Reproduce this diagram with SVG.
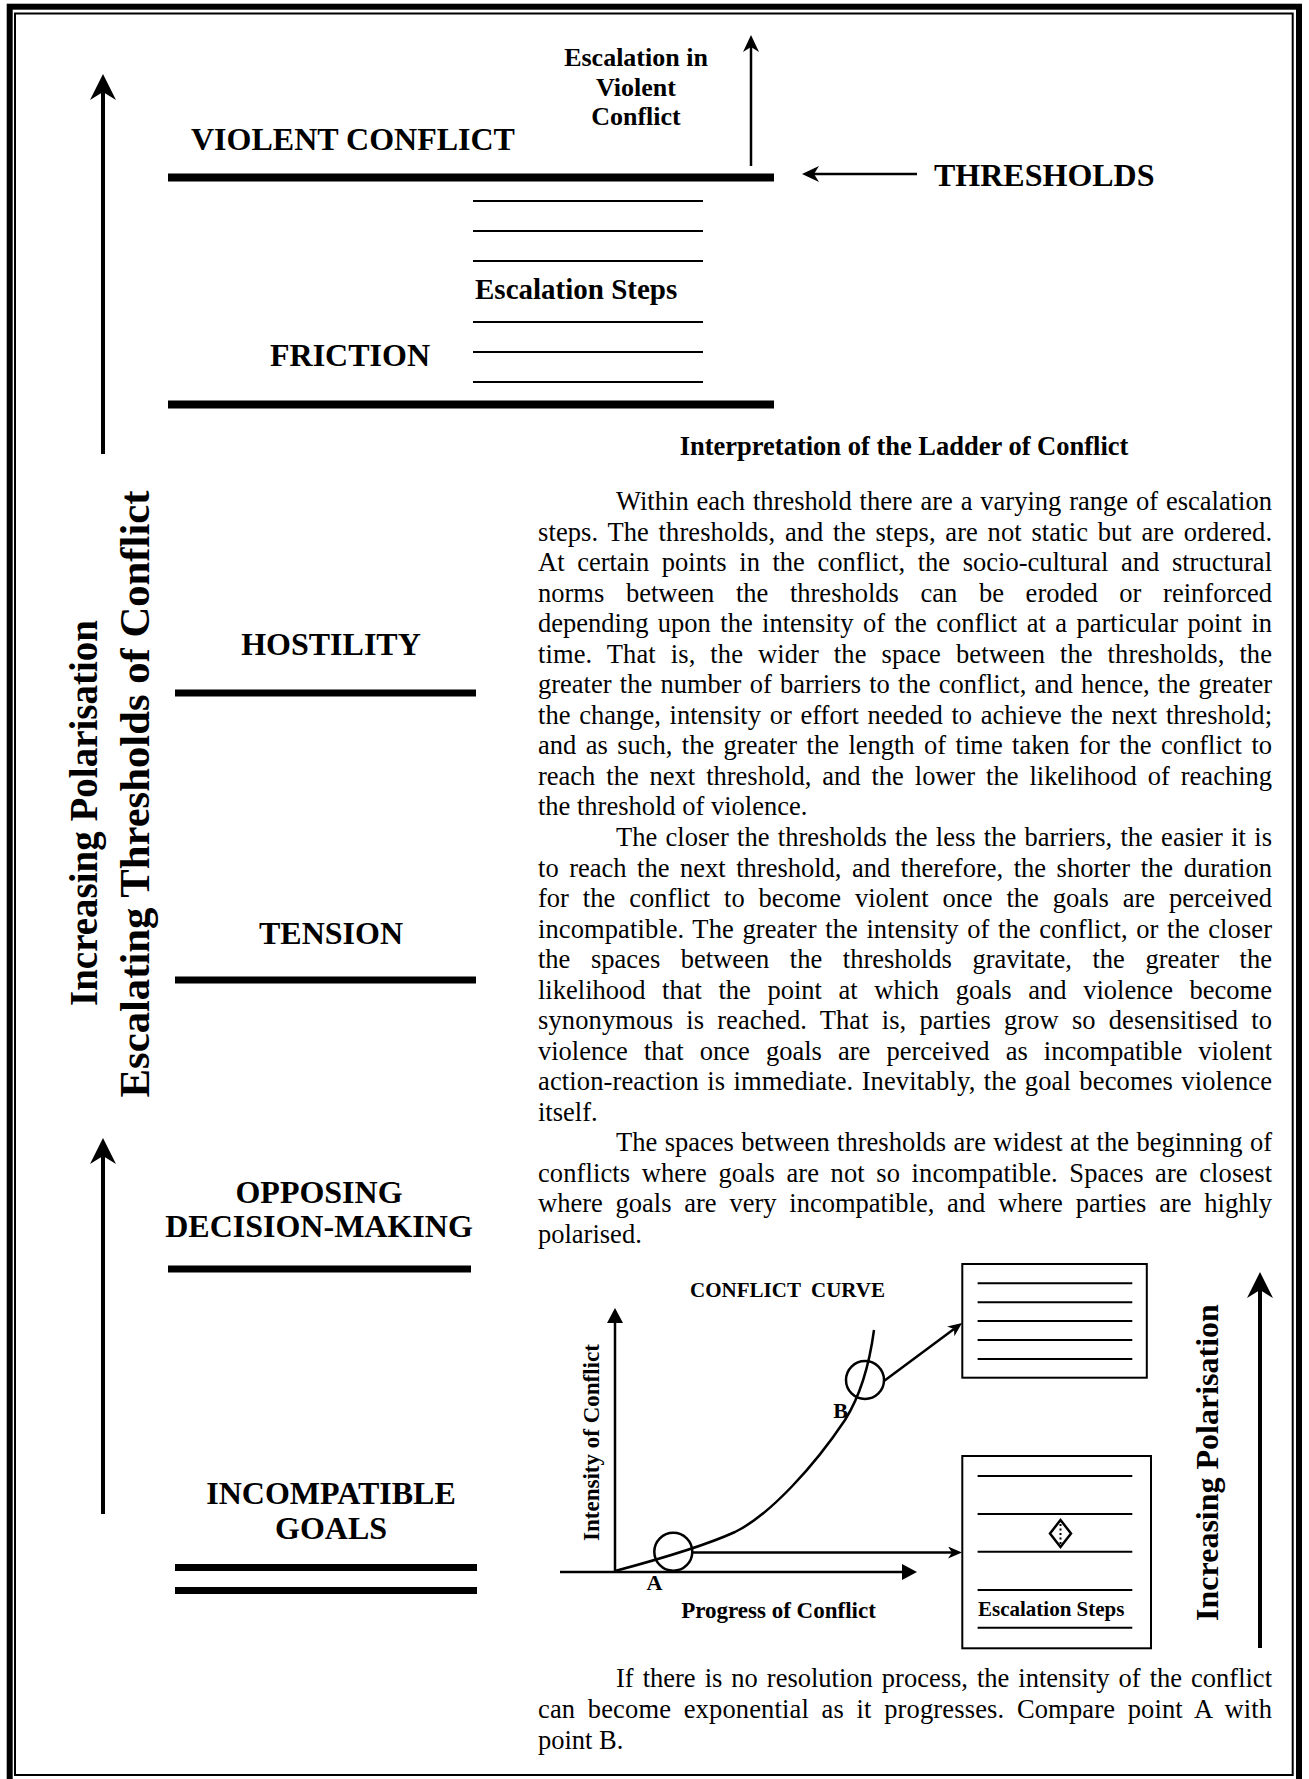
<svg xmlns="http://www.w3.org/2000/svg" width="1309" height="1779" viewBox="0 0 1309 1779">
  <style>
    text { font-family: "Liberation Serif", "Times New Roman", serif; fill: #000; }
    .cap { font-weight: bold; font-size: 32px; }
    .mid { text-anchor: middle; }
    .body { font-size: 26.5px; }
    .bold { font-weight: bold; }
    .sep { fill: none; stroke: #000; stroke-width: 7; }
    .sep8 { fill: none; stroke: #000; stroke-width: 8; }
    .step { fill: none; stroke: #000; stroke-width: 2; }
    .box { fill: none; stroke: #000; stroke-width: 2; }
    .shaft { fill: none; stroke: #000; stroke-width: 4; }
    .thin { fill: none; stroke: #000; stroke-width: 2.5; }
  </style>
  <defs>
    <!-- barbed arrowheads, anchored at the notch so the shaft never pokes through the tip -->
    <marker id="headBig" markerUnits="userSpaceOnUse" viewBox="0 0 26 26" markerWidth="26" markerHeight="26" refX="8" refY="13" orient="auto">
      <path d="M0,0 L26,13 L0,26 L8,13 Z" fill="#000"/>
    </marker>
    <marker id="headMid" markerUnits="userSpaceOnUse" viewBox="0 0 17 16" markerWidth="17" markerHeight="16" refX="5" refY="8" orient="auto">
      <path d="M0,0 L17,8 L0,16 L5,8 Z" fill="#000"/>
    </marker>
    <marker id="headSmall" markerUnits="userSpaceOnUse" viewBox="0 0 14 12" markerWidth="14" markerHeight="12" refX="4" refY="6" orient="auto">
      <path d="M0,0 L14,6 L0,12 L4,6 Z" fill="#000"/>
    </marker>
    <!-- plain triangle for the graph axes -->
    <marker id="headTri" markerUnits="userSpaceOnUse" viewBox="0 0 15 16" markerWidth="15" markerHeight="16" refX="0" refY="8" orient="auto">
      <path d="M0,0 L15,8 L0,16 Z" fill="#000"/>
    </marker>
  </defs>

  <rect width="1309" height="1779" fill="#fff"/>

  <!-- double page frame -->
  <g id="frame">
    <rect x="9.7" y="6.7" width="1289.3" height="1776" fill="none" stroke="#000" stroke-width="6"/>
    <rect x="15" y="13.5" width="1277.7" height="1761.5" fill="none" stroke="#000" stroke-width="2"/>
  </g>

  <!-- side captions -->
  <g id="side-captions" class="bold">
    <text class="mid" font-size="39" transform="translate(97,813) rotate(-90)">Increasing Polarisation</text>
    <text class="mid" font-size="42.7" transform="translate(149,794) rotate(-90)">Escalating Thresholds of Conflict</text>
  </g>

  <!-- ladder thresholds -->
  <g id="violent-conflict">
    <text class="cap" x="191" y="150">VIOLENT CONFLICT</text>
    <line class="sep8" x1="168" y1="177.5" x2="774" y2="177.5"/>
  </g>
  <g id="escalation-violent" class="bold" font-size="26">
    <text class="mid" x="636" y="66">Escalation in</text>
    <text class="mid" x="636" y="95.5">Violent</text>
    <text class="mid" x="636" y="125">Conflict</text>
  </g>
  <g id="thresholds-label">
    <text class="cap" x="934" y="186">THRESHOLDS</text>
  </g>
  <g id="escalation-steps">
    <line class="step" x1="473" y1="201" x2="703" y2="201"/>
    <line class="step" x1="473" y1="231" x2="703" y2="231"/>
    <line class="step" x1="473" y1="261" x2="703" y2="261"/>
    <text class="bold" font-size="29" x="475" y="299">Escalation Steps</text>
    <line class="step" x1="473" y1="322" x2="703" y2="322"/>
    <line class="step" x1="473" y1="352" x2="703" y2="352"/>
    <line class="step" x1="473" y1="382" x2="703" y2="382"/>
  </g>
  <g id="friction">
    <text class="cap" x="270" y="366">FRICTION</text>
    <line class="sep8" x1="168" y1="404.5" x2="774" y2="404.5"/>
  </g>
  <g id="hostility">
    <text class="cap mid" x="331" y="655">HOSTILITY</text>
    <line class="sep" x1="175" y1="693" x2="476" y2="693"/>
  </g>
  <g id="tension">
    <text class="cap mid" x="331" y="944">TENSION</text>
    <line class="sep" x1="175" y1="980" x2="476" y2="980"/>
  </g>
  <g id="opposing-decision-making">
    <text class="cap mid" x="319" y="1203">OPPOSING</text>
    <text class="cap mid" x="319" y="1237">DECISION-MAKING</text>
    <line class="sep" x1="168" y1="1269" x2="471" y2="1269"/>
  </g>
  <g id="incompatible-goals">
    <text class="cap mid" x="331" y="1504">INCOMPATIBLE</text>
    <text class="cap mid" x="331" y="1539">GOALS</text>
    <line class="sep" x1="175" y1="1567.5" x2="477" y2="1567.5" stroke-width="6"/>
    <line class="sep" x1="175" y1="1590.5" x2="477" y2="1590.5"/>
  </g>

  <!-- explanatory text -->
  <g id="interpretation" class="body" xml:space="preserve">
    <text class="bold mid" font-size="26.5" x="904" y="455">Interpretation of the Ladder of Conflict</text>
    <text x="616" y="510" word-spacing="1.2" textLength="656" lengthAdjust="spacing">Within each threshold there are a varying range of escalation</text>
    <text x="538" y="540.5" word-spacing="2.9" textLength="734" lengthAdjust="spacing">steps.  The thresholds, and the steps, are not static but are ordered.</text>
    <text x="538" y="571.1" word-spacing="6" textLength="734" lengthAdjust="spacing">At certain points in the conflict, the socio-cultural and structural</text>
    <text x="538" y="601.6" word-spacing="15" textLength="734" lengthAdjust="spacing">norms between the thresholds can be eroded or reinforced</text>
    <text x="538" y="632.2" word-spacing="2.8" textLength="734" lengthAdjust="spacing">depending upon the intensity of the conflict at a particular point in</text>
    <text x="538" y="662.7" word-spacing="8.2" textLength="734" lengthAdjust="spacing">time.  That is, the wider the space between the thresholds, the</text>
    <text x="538" y="693.2" word-spacing="1.6" textLength="734" lengthAdjust="spacing">greater the number of barriers to the conflict, and hence, the greater</text>
    <text x="538" y="723.8" word-spacing="2.1" textLength="734" lengthAdjust="spacing">the change, intensity or effort needed to achieve the next threshold;</text>
    <text x="538" y="754.3" word-spacing="2.8" textLength="734" lengthAdjust="spacing">and as such, the greater the length of time taken for the conflict to</text>
    <text x="538" y="784.9" word-spacing="4.3" textLength="734" lengthAdjust="spacing">reach the next threshold, and the lower the likelihood of reaching</text>
    <text x="538" y="815.4">the threshold of violence.</text>
    <text x="616" y="845.9" word-spacing="1.7" textLength="656" lengthAdjust="spacing">The closer the thresholds the less the barriers, the easier it is</text>
    <text x="538" y="876.5" word-spacing="3.9" textLength="734" lengthAdjust="spacing">to reach the next threshold, and therefore, the shorter the duration</text>
    <text x="538" y="907" word-spacing="7.3" textLength="734" lengthAdjust="spacing">for the conflict to become violent once the goals are perceived</text>
    <text x="538" y="937.6" word-spacing="1.8" textLength="734" lengthAdjust="spacing">incompatible.  The greater the intensity of the conflict, or the closer</text>
    <text x="538" y="968.1" word-spacing="14" textLength="734" lengthAdjust="spacing">the spaces between the thresholds gravitate, the greater the</text>
    <text x="538" y="998.6" word-spacing="10" textLength="734" lengthAdjust="spacing">likelihood that the point at which goals and violence become</text>
    <text x="538" y="1029.2" word-spacing="6.3" textLength="734" lengthAdjust="spacing">synonymous is reached.  That is, parties grow so desensitised to</text>
    <text x="538" y="1059.7" word-spacing="9.5" textLength="734" lengthAdjust="spacing">violence that once goals are perceived as incompatible violent</text>
    <text x="538" y="1090.3" word-spacing="1.6" textLength="734" lengthAdjust="spacing">action-reaction is immediate.  Inevitably, the goal becomes violence</text>
    <text x="538" y="1120.8">itself.</text>
    <text x="616" y="1151.3" word-spacing="0.8" textLength="656" lengthAdjust="spacing">The spaces between thresholds are widest at the beginning of</text>
    <text x="538" y="1181.9" word-spacing="4.8" textLength="734" lengthAdjust="spacing">conflicts where goals are not so incompatible.  Spaces are closest</text>
    <text x="538" y="1212.4" word-spacing="6.2" textLength="734" lengthAdjust="spacing">where goals are very incompatible, and where parties are highly</text>
    <text x="538" y="1243">polarised.</text>
  </g>

  <!-- conflict curve graph -->
  <g id="conflict-curve">
    <text class="bold mid" font-size="21" x="787.5" y="1297" xml:space="preserve">CONFLICT  CURVE</text>
    <text class="bold mid" font-size="23" transform="translate(599,1442.5) rotate(-90)">Intensity of Conflict</text>
    <text class="bold mid" font-size="23" x="778.5" y="1618">Progress of Conflict</text>
    <text class="bold mid" font-size="22" x="654.5" y="1590">A</text>
    <text class="bold mid" font-size="22" x="840.5" y="1418">B</text>
    <path class="thin" d="M615,1571 C645,1563 700,1548 735,1532 C770,1515 815,1465 845,1420 C862,1393 870,1360 874,1330"/>
    <circle class="thin" cx="673.3" cy="1551.7" r="19"/>
    <circle class="thin" cx="865" cy="1380" r="19"/>
  </g>

  <g id="steps-box-high">
    <rect class="box" x="962.3" y="1264" width="184.5" height="113.7"/>
    <line class="step" x1="977.6" y1="1283.3" x2="1132.3" y2="1283.3"/>
    <line class="step" x1="977.6" y1="1302.3" x2="1132.3" y2="1302.3"/>
    <line class="step" x1="977.6" y1="1321" x2="1132.3" y2="1321"/>
    <line class="step" x1="977.6" y1="1340" x2="1132.3" y2="1340"/>
    <line class="step" x1="977.6" y1="1359" x2="1132.3" y2="1359"/>
  </g>

  <g id="steps-box-low">
    <rect class="box" x="962.3" y="1456" width="188.7" height="192.3"/>
    <line class="step" x1="977.6" y1="1476" x2="1132.3" y2="1476"/>
    <line class="step" x1="977.6" y1="1514" x2="1132.3" y2="1514"/>
    <line class="step" x1="977.6" y1="1551.7" x2="1132.3" y2="1551.7"/>
    <line class="step" x1="977.6" y1="1590" x2="1132.3" y2="1590"/>
    <line class="step" x1="977.6" y1="1627.7" x2="1132.3" y2="1627.7"/>
    <path d="M1060.5,1520 L1071,1533.5 L1060.5,1547 L1050,1533.5 Z" fill="none" stroke="#000" stroke-width="2.5"/>
    <line x1="1060.5" y1="1524" x2="1060.5" y2="1545" stroke="#000" stroke-width="2" stroke-dasharray="2 2.5"/>
    <text class="bold" font-size="21" x="978" y="1615.7">Escalation Steps</text>
  </g>

  <g id="right-caption">
    <text class="bold mid" font-size="32" transform="translate(1218,1462.5) rotate(-90)">Increasing Polarisation</text>
  </g>

  <g id="closing-note" class="body" xml:space="preserve">
    <text x="616" y="1687" word-spacing="2.4" textLength="656" lengthAdjust="spacing">If there is no resolution process, the intensity of the conflict</text>
    <text x="538" y="1718" word-spacing="5.8" textLength="734" lengthAdjust="spacing">can become exponential as it progresses.  Compare point A with</text>
    <text x="538" y="1749">point B.</text>
  </g>

  <!-- arrows -->
  <g id="connectors">
    <line class="shaft" x1="103" y1="454" x2="103" y2="92" marker-end="url(#headBig)"/>
    <line class="shaft" x1="103" y1="1514" x2="103" y2="1156" marker-end="url(#headBig)"/>
    <line class="shaft" x1="1260" y1="1648" x2="1260" y2="1290" marker-end="url(#headBig)"/>
    <line class="thin" x1="751" y1="166" x2="751" y2="47" stroke-width="3" marker-end="url(#headMid)"/>
    <line class="thin" x1="917" y1="174" x2="814" y2="174" stroke-width="3" marker-end="url(#headMid)"/>
    <line class="thin" x1="615" y1="1572" x2="615" y2="1323" marker-end="url(#headTri)"/>
    <line class="thin" x1="560" y1="1572" x2="902" y2="1572" marker-end="url(#headTri)"/>
    <line class="thin" x1="692" y1="1552.5" x2="952" y2="1552.5" marker-end="url(#headSmall)"/>
    <line class="thin" x1="884" y1="1381" x2="954" y2="1329" marker-end="url(#headSmall)"/>
  </g>
</svg>
